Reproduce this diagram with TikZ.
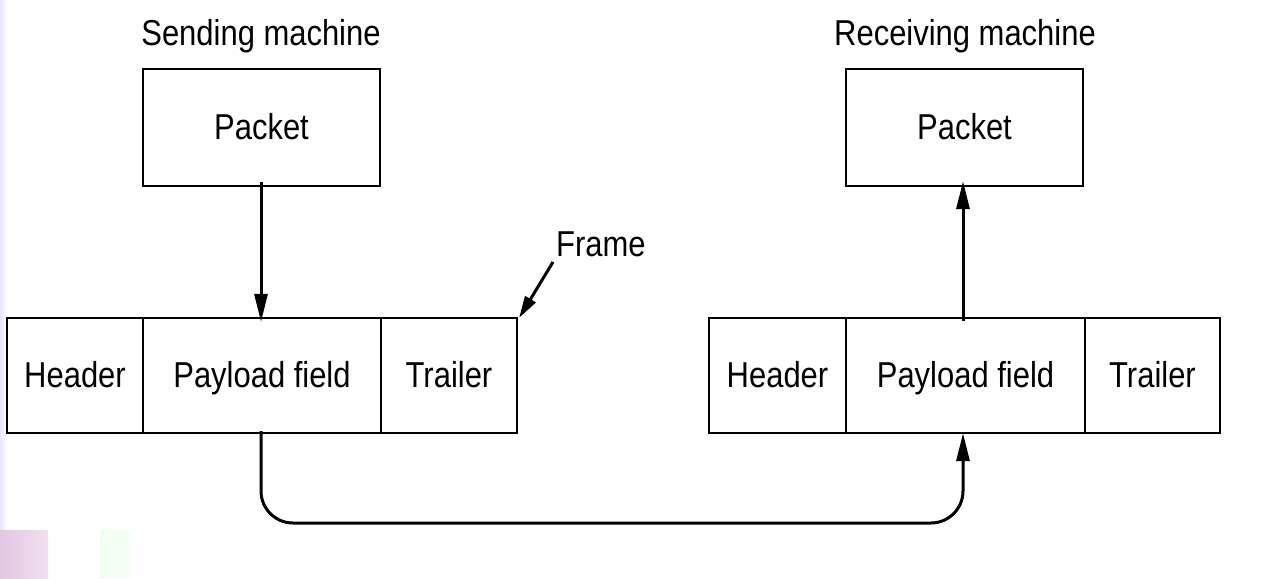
\documentclass[tikz,border=0pt]{standalone}
\usepackage{fontspec}
\setmainfont{Liberation Sans}[FakeStretch=0.86]
\usetikzlibrary{arrows.meta}
\begin{document}
\begin{tikzpicture}[x=1pt,y=-1pt,
  txt/.style={font=\fontsize{36}{40}\selectfont,text height=24pt,text depth=0pt},
  cell/.style={txt,draw,line width=2.2pt,minimum height=115pt,inner sep=0pt},
  pbox/.style={txt,draw,line width=2.2pt,minimum width=237pt,minimum height=117pt,inner sep=0pt},
  lbl/.style={font=\fontsize{36}{40}\selectfont,inner sep=0pt},
  conn/.style={line width=3pt,-{Triangle[length=28pt,width=13pt]}}]
\useasboundingbox (0,0) rectangle (1263,578);
% faint slide background decoration
\fill[left color=blue!10,right color=white] (0,0) rectangle (7,530);
\fill[left color=violet!22,right color=violet!12] (0,530) rectangle (48,578);
\fill[green!6] (100,530) rectangle (130,578);
% sending side
\node[lbl,anchor=base] (st) at (261,46) {Sending machine};
\node[pbox] (p1) at (261.5,127.5) {Packet};
\node[cell,minimum width=136pt] (h1) at (75,375.5) {Header};
\node[cell,minimum width=238pt] (f1) at (262,375.5) {Payload field};
\node[cell,minimum width=136pt] (t1) at (449,375.5) {Trailer};
% receiving side
\node[lbl,anchor=base] (rt) at (965,46) {Receiving machine};
\node[pbox] (p2) at (964.5,127.5) {Packet};
\node[cell,minimum width=137pt] (h2) at (777.5,375.5) {Header};
\node[cell,minimum width=239pt] (f2) at (965.5,375.5) {Payload field};
\node[cell,minimum width=135pt] (t2) at (1152.5,375.5) {Trailer};
% frame label
\node[lbl,anchor=base west] (fr) at (556,256) {Frame};
\coordinate (frs) at (553,262);
\draw[conn,-{Triangle[length=22pt,width=12pt]}] (frs) -- ([shift={(1pt,-1pt)}]t1.north east);
% arrows
\draw[conn] ([yshift=5pt]p1.south -| 261,0) -- ([yshift=-5pt]f1.north -| 261,0);
\draw[conn] ([yshift=-4pt]f2.north -| 963,0) -- ([yshift=6pt]p2.south -| 963,0);
\draw[conn,rounded corners=32pt] ([yshift=3pt]f1.south -| 261,0) -- (261,523) -- (963,523) -- ([yshift=1pt]f2.south -| 963,0);
\end{tikzpicture}
\end{document}
